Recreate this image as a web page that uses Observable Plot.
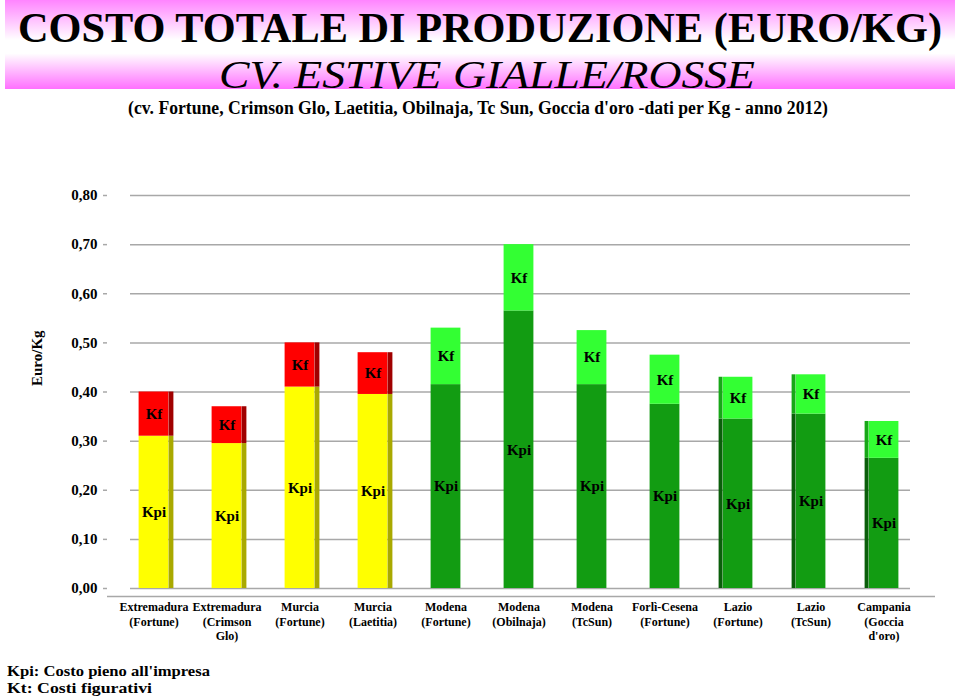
<!DOCTYPE html>
<html>
<head>
<meta charset="utf-8">
<script src="https://cdn.jsdelivr.net/npm/d3@7"></script>
<script src="https://cdn.jsdelivr.net/npm/@observablehq/plot@0.6"></script>
<style>
  body { margin: 0; background: #fff; }
  #wrap { width: 960px; height: 696px; position: relative; overflow: hidden; }
  svg { display: block; }
</style>
</head>
<body>
<div id="wrap">
  <svg id="head" width="960" height="125" font-family="'Liberation Serif', 'Times New Roman', serif">
    <defs>
      <linearGradient id="pink" x1="0" y1="0" x2="0" y2="1">
        <stop offset="0" stop-color="#ff84ff"/>
        <stop offset="0.45" stop-color="#ffffff"/>
        <stop offset="0.6" stop-color="#ffffff"/>
        <stop offset="1" stop-color="#ff70ff"/>
      </linearGradient>
    </defs>
    <rect x="5" y="0" width="950" height="89" fill="url(#pink)"/>
    <text x="480" y="42" text-anchor="middle" font-size="43" font-weight="bold" textLength="924" lengthAdjust="spacingAndGlyphs">COSTO TOTALE DI PRODUZIONE (EURO/KG)</text>
    <text x="487" y="88" text-anchor="middle" font-size="41" font-style="italic" textLength="536" lengthAdjust="spacingAndGlyphs">CV. ESTIVE GIALLE/ROSSE</text>
    <text x="478" y="114" text-anchor="middle" font-size="18" font-weight="bold" textLength="700" lengthAdjust="spacingAndGlyphs">(cv. Fortune, Crimson Glo, Laetitia, Obilnaja, Tc Sun, Goccia d'oro -dati per Kg - anno 2012)</text>
  </svg>
  <div id="chart"></div>
  <svg id="legend" width="960" height="51" font-family="'Liberation Serif', 'Times New Roman', serif" font-weight="bold">
    <text x="7" y="31" font-size="15" textLength="203" lengthAdjust="spacingAndGlyphs">Kpi: Costo pieno all'impresa</text>
    <text x="7" y="48" font-size="15" textLength="145" lengthAdjust="spacingAndGlyphs">Kt: Costi figurativi</text>
  </svg>
</div>
<script>
// ---- data ----
const categories = [
  "Extremadura (Fortune)", "Extremadura (Crimson Glo)", "Murcia (Fortune)", "Murcia (Laetitia)",
  "Modena (Fortune)", "Modena (Obilnaja)", "Modena (TcSun)", "Forlì-Cesena (Fortune)",
  "Lazio (Fortune)", "Lazio (TcSun)", "Campania (Goccia d'oro)"
];
const xLabels = [
  "Extremadura\n(Fortune)", "Extremadura\n(Crimson\nGlo)", "Murcia\n(Fortune)", "Murcia\n(Laetitia)",
  "Modena\n(Fortune)", "Modena\n(Obilnaja)", "Modena\n(TcSun)", "Forlì-Cesena\n(Fortune)",
  "Lazio\n(Fortune)", "Lazio\n(TcSun)", "Campania\n(Goccia\nd'oro)"
];
const gruppo = ["Spagna", "Spagna", "Spagna", "Spagna", "Italia", "Italia", "Italia", "Italia", "Italia", "Italia", "Italia"];
const kpi = [0.31, 0.295, 0.41, 0.395, 0.415, 0.565, 0.415, 0.375, 0.345, 0.355, 0.265];
const kf  = [0.09, 0.075, 0.09, 0.085, 0.115, 0.135, 0.11, 0.10, 0.085, 0.08, 0.075];
const seriesNames = ["Kpi", "Kf"];
const yTicks = [0, 0.1, 0.2, 0.3, 0.4, 0.5, 0.6, 0.7, 0.8];

// ---- styles ----
const palette = {
  Spagna: {Kpi: "#ffff00", Kf: "#ff0000", KpiSide: "#a9a900", KfSide: "#a00000"},
  Italia: {Kpi: "#129c12", Kf: "#33ff33", KpiSide: "#0a5e0a", KfSide: "#17a717"}
};
const grid = "#a8a8a8";

// ---- table ----
const rows = [];
categories.forEach((c, i) => {
  const vals = [kpi[i], kf[i]];
  let base = 0;
  seriesNames.forEach((s, j) => {
    rows.push({cat: c, idx: i, series: s, y1: base, y2: base + vals[j],
      color: palette[gruppo[i]][s], side: palette[gruppo[i]][s + "Side"]});
    base += vals[j];
  });
});
const rightSide = rows.filter(d => d.idx < 4);
const leftSide = rows.filter(d => d.idx >= 8);

const fmt = v => d3.format(".2f")(v).replace(".", ",");
const font = "'Liberation Serif', 'Times New Roman', serif";

const chart = Plot.plot({
  width: 960,
  height: 520,
  marginLeft: 107,
  marginRight: 25,
  marginTop: 70,
  marginBottom: 57,
  style: {fontFamily: font, background: "white", color: "black"},
  x: {domain: categories, range: [115.4, 920.6], padding: 0, axis: null},
  y: {domain: [0, 0.8], axis: null},
  color: {type: "identity"},
  marks: [
    Plot.ruleY(yTicks, {stroke: grid, strokeWidth: 1.5, insetLeft: 23, insetRight: 25}),
    Plot.ruleY([0], {dy: 8, stroke: grid, strokeWidth: 1.5}),
    Plot.axisY(yTicks, {
      tickSize: 4, tickPadding: 6, line: true, stroke: grid, strokeWidth: 1.5,
      tickFormat: fmt, fontSize: 15, fontWeight: "bold", label: null
    }),
    Plot.barY(rows, {x: "cat", y1: "y1", y2: "y2", fill: "color", insetLeft: 21.6, insetRight: 21.6}),
    Plot.barY(rightSide, {x: "cat", y1: "y1", y2: "y2", fill: "side", insetLeft: 51.6, insetRight: 16.6}),
    Plot.barY(leftSide, {x: "cat", y1: "y1", y2: "y2", fill: "side", insetLeft: 17.6, insetRight: 51.6}),
    Plot.text(rows, {
      x: "cat", y: d => (d.y1 + d.y2) / 2, text: "series",
      fontSize: 15, fontWeight: "bold", fill: "black"
    }),
    Plot.text(categories, {
      x: d => d, text: (d, i) => xLabels[i], frameAnchor: "bottom", lineAnchor: "top",
      dy: 13, lineHeight: 1.17, fontSize: 12, fontWeight: "bold", fill: "black"
    }),
    Plot.text(["Euro/Kg"], {
      frameAnchor: "left", rotate: -90, dx: -70, dy: -6,
      fontSize: 15, fontWeight: "bold", fill: "black"
    })
  ]
});
document.getElementById("chart").appendChild(chart);
</script>
</body>
</html>
